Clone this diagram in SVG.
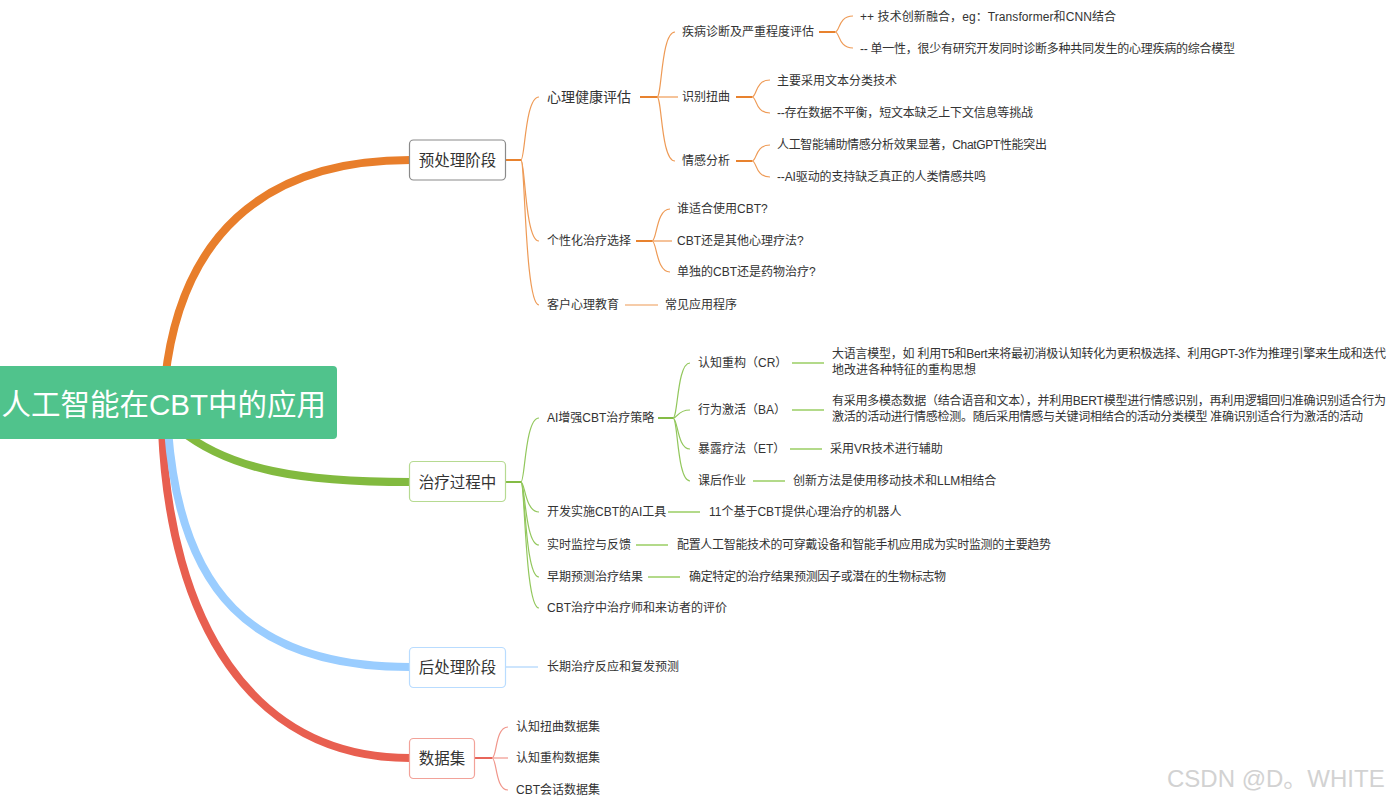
<svg xmlns="http://www.w3.org/2000/svg" width="1389" height="802" viewBox="0 0 1389 802">
<style>
text{font-family:"Liberation Sans","Noto Sans CJK SC",sans-serif;fill:#333;dominant-baseline:central}
.t{font-size:12px}
.t14{font-size:14px}
.b{font-size:15.5px;text-anchor:middle}
.root{font-size:29.5px;fill:#fff;text-anchor:end}
.wm{font-size:24px;fill:#d2d2d2;dominant-baseline:auto}
.main{fill:none;stroke-width:8;stroke-linecap:round}
.o{fill:none;stroke:#ee9a55;stroke-width:1.2}
.os{fill:none;stroke:#e8822e;stroke-width:2}
.g{fill:none;stroke:#92c75c;stroke-width:1.2}
.gs{fill:none;stroke:#84bc45;stroke-width:2}
.gl{fill:none;stroke:#b3da8a;stroke-width:2}
.bl{fill:none;stroke:#bcdcfd;stroke-width:1.5}
.r{fill:none;stroke:#f0968b;stroke-width:1.2}
.rs{fill:none;stroke:#e8655a;stroke-width:2}
.box{fill:#fff;stroke-width:1.2}
</style>
<g id="connectors">
  <path class="main" stroke="#e87e2b" d="M165,380 C180,240 260,160 410,160"/>
  <path class="main" stroke="#e85f50" d="M162,430 C170,620 250,758 410,758"/>
  <path class="main" stroke="#9acdff" d="M168,430 C180,590 250,667 410,667"/>
  <path class="main" stroke="#82ba3f" d="M180,430 C230,470 300,482 410,482"/>

  <path class="os" d="M506,160 H521"/>
  <path class="o" d="M521,160 C525,160 525,97 539,97"/>
  <path class="o" d="M521,160 C525,160 525,241 539,241"/>
  <path class="o" d="M521,160 C525,160 525,305 539,305"/>

  <path class="os" d="M640,97 H657"/>
  <path class="o" d="M657,97 C662,97 661,32 675,32"/>
  <path class="o" d="M657,97 H678"/>
  <path class="o" d="M657,97 C662,97 661,161 675,161"/>

  <path class="os" d="M819,32 H835"/>
  <path class="o" d="M835,32 C840,32 838,16 853,16"/>
  <path class="o" d="M835,32 C840,32 838,48 853,48"/>

  <path class="os" d="M736,97 H752"/>
  <path class="o" d="M752,97 C757,97 755,80 770,80"/>
  <path class="o" d="M752,97 C757,97 755,113 770,113"/>

  <path class="os" d="M736,161 H752"/>
  <path class="o" d="M752,161 C757,161 755,145 770,145"/>
  <path class="o" d="M752,161 C757,161 755,177 770,177"/>

  <path class="os" d="M636,241 H652"/>
  <path class="o" d="M652,241 C657,241 656,209 670,209"/>
  <path class="o" d="M652,241 H672"/>
  <path class="o" d="M652,241 C657,241 656,272 670,272"/>

  <path class="o" d="M625,305 H658"/>

  <path class="gs" d="M506,482 H521"/>
  <path class="g" d="M521,482 C525,482 525,418 539,418"/>
  <path class="g" d="M521,482 C525,482 525,512 539,512"/>
  <path class="g" d="M521,482 C525,482 525,545 539,545"/>
  <path class="g" d="M521,482 C525,482 525,577 539,577"/>
  <path class="g" d="M521,482 C525,482 525,608 539,608"/>

  <path class="gs" d="M658,418 H673"/>
  <path class="g" d="M673,418 C678,418 677,363 690,363"/>
  <path class="g" d="M673,418 C678,418 677,410 690,410"/>
  <path class="g" d="M673,418 C678,418 677,449 690,449"/>
  <path class="g" d="M673,418 C678,418 677,481 690,481"/>

  <path class="gl" d="M792,363 H824"/>
  <path class="gl" d="M792,410 H824"/>
  <path class="gl" d="M790,449 H822"/>
  <path class="gl" d="M753,481 H785"/>
  <path class="gl" d="M668,512 H700"/>
  <path class="gl" d="M636,545 H668"/>
  <path class="gl" d="M648,577 H680"/>

  <path class="bl" d="M506,667 H538"/>

  <path class="rs" d="M475,758 H492"/>
  <path class="r" d="M492,758 C497,758 495,727 508,727"/>
  <path class="r" d="M492,758 H508"/>
  <path class="r" d="M492,758 C497,758 495,790 508,790"/>
</g>

<g id="root">
  <rect x="-10" y="366" width="347" height="73" rx="4" fill="#50c38c"/>
  <text class="root" x="326" y="404">人工智能在CBT中的应用</text>
</g>

<g id="pre">
  <rect class="box" x="409.5" y="140" width="96" height="40" rx="4" stroke="#8a8a8a"/>
  <text class="b" x="457.5" y="160">预处理阶段</text>
</g>
<g id="pre-1"><text class="t14" x="547" y="97">心理健康评估</text></g>
<g id="pre-1-1"><text class="t" x="682" y="32">疾病诊断及严重程度评估</text></g>
<g id="pre-1-1-1"><text class="t" x="860" y="16.5" textLength="256" lengthAdjust="spacing">++ 技术创新融合，eg：Transformer和CNN结合</text></g>
<g id="pre-1-1-2"><text class="t" x="860" y="48.5" textLength="375" lengthAdjust="spacing">-- 单一性，很少有研究开发同时诊断多种共同发生的心理疾病的综合模型</text></g>
<g id="pre-1-2"><text class="t" x="682" y="97">识别扭曲</text></g>
<g id="pre-1-2-1"><text class="t" x="777" y="80.5">主要采用文本分类技术</text></g>
<g id="pre-1-2-2"><text class="t" x="777" y="113" textLength="256" lengthAdjust="spacing">--存在数据不平衡，短文本缺乏上下文信息等挑战</text></g>
<g id="pre-1-3"><text class="t" x="682" y="161">情感分析</text></g>
<g id="pre-1-3-1"><text class="t" x="777" y="145" textLength="270" lengthAdjust="spacing">人工智能辅助情感分析效果显著，ChatGPT性能突出</text></g>
<g id="pre-1-3-2"><text class="t" x="777" y="177" textLength="209" lengthAdjust="spacing">--AI驱动的支持缺乏真正的人类情感共鸣</text></g>
<g id="pre-2"><text class="t" x="547" y="241">个性化治疗选择</text></g>
<g id="pre-2-1"><text class="t" x="677" y="209">谁适合使用CBT?</text></g>
<g id="pre-2-2"><text class="t" x="677" y="241">CBT还是其他心理疗法?</text></g>
<g id="pre-2-3"><text class="t" x="677" y="272">单独的CBT还是药物治疗?</text></g>
<g id="pre-3"><text class="t" x="547" y="305">客户心理教育</text></g>
<g id="pre-3-1"><text class="t" x="665" y="305">常见应用程序</text></g>

<g id="treat">
  <rect class="box" x="409.5" y="461.5" width="96" height="40" rx="4" stroke="#b6da91"/>
  <text class="b" x="457.5" y="482">治疗过程中</text>
</g>
<g id="treat-1"><text class="t" x="547" y="418">AI增强CBT治疗策略</text></g>
<g id="treat-1-1"><text class="t" x="698" y="363">认知重构（CR）</text></g>
<g id="treat-1-1-1"><text class="t" x="832" y="354" textLength="554" lengthAdjust="spacing">大语言模型，如 利用T5和Bert来将最初消极认知转化为更积极选择、利用GPT-3作为推理引擎来生成和迭代</text><text class="t" x="832" y="370">地改进各种特征的重构思想</text></g>
<g id="treat-1-2"><text class="t" x="698" y="410">行为激活（BA）</text></g>
<g id="treat-1-2-1"><text class="t" x="832" y="401" textLength="554" lengthAdjust="spacing">有采用多模态数据（结合语音和文本），并利用BERT模型进行情感识别，再利用逻辑回归准确识别适合行为</text><text class="t" x="832" y="417" textLength="531" lengthAdjust="spacing">激活的活动进行情感检测。随后采用情感与关键词相结合的活动分类模型 准确识别适合行为激活的活动</text></g>
<g id="treat-1-3"><text class="t" x="698" y="449">暴露疗法（ET）</text></g>
<g id="treat-1-3-1"><text class="t" x="830" y="449">采用VR技术进行辅助</text></g>
<g id="treat-1-4"><text class="t" x="698" y="481">课后作业</text></g>
<g id="treat-1-4-1"><text class="t" x="793" y="481">创新方法是使用移动技术和LLM相结合</text></g>
<g id="treat-2"><text class="t" x="547" y="512">开发实施CBT的AI工具</text></g>
<g id="treat-2-1"><text class="t" x="709" y="512">11个基于CBT提供心理治疗的机器人</text></g>
<g id="treat-3"><text class="t" x="547" y="545">实时监控与反馈</text></g>
<g id="treat-3-1"><text class="t" x="677" y="545" textLength="374" lengthAdjust="spacing">配置人工智能技术的可穿戴设备和智能手机应用成为实时监测的主要趋势</text></g>
<g id="treat-4"><text class="t" x="547" y="577">早期预测治疗结果</text></g>
<g id="treat-4-1"><text class="t" x="689" y="577" textLength="257" lengthAdjust="spacing">确定特定的治疗结果预测因子或潜在的生物标志物</text></g>
<g id="treat-5"><text class="t" x="547" y="608">CBT治疗中治疗师和来访者的评价</text></g>

<g id="post">
  <rect class="box" x="409.5" y="647.5" width="96" height="40" rx="4" stroke="#b9dcff"/>
  <text class="b" x="457.5" y="667">后处理阶段</text>
</g>
<g id="post-1"><text class="t" x="547" y="667">长期治疗反应和复发预测</text></g>

<g id="data">
  <rect class="box" x="409.5" y="738.5" width="65" height="40" rx="4" stroke="#f2a299"/>
  <text class="b" x="442" y="758">数据集</text>
</g>
<g id="data-1"><text class="t" x="516" y="727">认知扭曲数据集</text></g>
<g id="data-2"><text class="t" x="516" y="758">认知重构数据集</text></g>
<g id="data-3"><text class="t" x="516" y="790">CBT会话数据集</text></g>

<text class="wm" x="1167" y="787">CSDN @D。WHITE</text>
</svg>
